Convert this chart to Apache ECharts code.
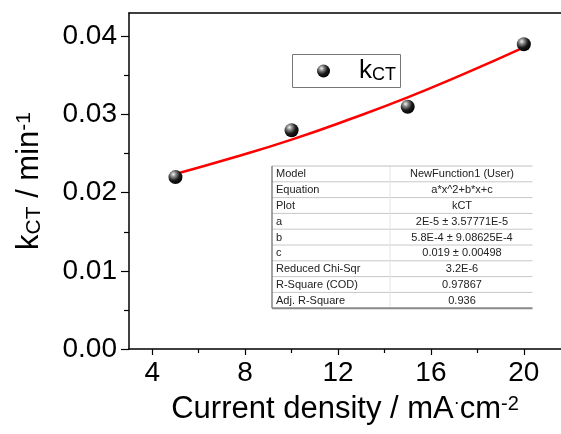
<!DOCTYPE html>
<html>
<head>
<meta charset="utf-8">
<script src="https://cdn.jsdelivr.net/npm/echarts@6/dist/echarts.min.js"></script>
<style>
html,body{margin:0;padding:0;background:#fff;}
#c{width:561px;height:434px;}
</style>
</head>
<body>
<div id="c"></div>
<script>
// ---- data ----
var currentDensity = [5, 10, 15, 20];
var kCT = [0.022, 0.028, 0.031, 0.039];
var fitX = [5, 7.5, 10, 12.5, 15, 17.5, 20];
var fitY = [0.0224, 0.0245, 0.0268, 0.0294, 0.0322, 0.0353, 0.0386];
var xTicks = [4, 8, 12, 16, 20];
var xMinorTicks = [6, 10, 14, 18];
var yTicks = [0, 0.01, 0.02, 0.03, 0.04];
var yMinorTicks = [0.005, 0.015, 0.025, 0.035];
var tableLabels = ['Model', 'Equation', 'Plot', 'a', 'b', 'c', 'Reduced Chi-Sqr', 'R-Square (COD)', 'Adj. R-Square'];
var tableValues = ['NewFunction1 (User)', 'a*x^2+b*x+c', 'kCT', '2E-5 \u00b1 3.57771E-5', '5.8E-4 \u00b1 9.08625E-4', '0.019 \u00b1 0.00498', '3.2E-6', '0.97867', '0.936'];
var legendName = 'kCT';

var FONT = 'Arial, "Liberation Sans", sans-serif';
var chart = echarts.init(document.getElementById('c'), null, {renderer: 'canvas'});

var sphere = {
  type: 'radial', x: 0.35, y: 0.3, r: 0.75,
  colorStops: [
    {offset: 0, color: '#f4f4f4'},
    {offset: 0.25, color: '#8a8a8a'},
    {offset: 0.6, color: '#1a1a1a'},
    {offset: 1, color: '#000000'}
  ]
};

// table graphic
var tL = 272, tT = 166, tR = 532.5, tDiv = 390, rowH = 15.8;
var tableEls = [];
tableEls.push({type: 'rect', shape: {x: tL, y: tT, width: tR - tL, height: rowH * tableLabels.length}, style: {fill: '#ffffff'}});
for (var i = 0; i < tableLabels.length; i++) {
  var y0 = tT + i * rowH;
  tableEls.push({type: 'text', style: {x: tL + 4, y: y0 + rowH / 2 + 0.5, text: tableLabels[i], fill: '#222', font: '11px ' + FONT, verticalAlign: 'middle', align: 'left'}});
  tableEls.push({type: 'text', style: {x: 462, y: y0 + rowH / 2 + 0.5, text: tableValues[i], fill: '#222', font: '11px ' + FONT, verticalAlign: 'middle', align: 'center'}});
  if (i > 0) {
    tableEls.push({type: 'line', shape: {x1: tL, y1: y0, x2: tR, y2: y0}, style: {stroke: '#c8c8c8', lineWidth: 1}});
  }
}
tableEls.push({type: 'line', shape: {x1: tDiv, y1: tT, x2: tDiv, y2: tT + rowH * tableLabels.length}, style: {stroke: '#e4e4e4', lineWidth: 1}});
tableEls.push({type: 'line', shape: {x1: tL, y1: tT, x2: tR, y2: tT}, style: {stroke: '#c0c0c0', lineWidth: 1}});
tableEls.push({type: 'line', shape: {x1: tL, y1: tT, x2: tL, y2: tT + rowH * tableLabels.length}, style: {stroke: '#666', lineWidth: 1.2}});
tableEls.push({type: 'line', shape: {x1: tL, y1: tT + rowH * tableLabels.length, x2: tR, y2: tT + rowH * tableLabels.length}, style: {stroke: '#888', lineWidth: 2}});

var legendEls = [
  {type: 'rect', shape: {x: 292.5, y: 54.5, width: 108, height: 33}, style: {fill: '#fff', stroke: '#777', lineWidth: 1}},
  {type: 'circle', shape: {cx: 323.5, cy: 71, r: 6.5}, style: {fill: sphere}},
  {type: 'text', style: {x: 359, y: 84, text: '{k|k}{s|CT}', verticalAlign: 'bottom', align: 'left',
    rich: {k: {fontSize: 26, fontFamily: FONT, fill: '#000', color: '#000'}, s: {fontSize: 18, fontFamily: FONT, color: '#000', verticalAlign: 'bottom'}}}}
];

var option = {
  animation: false,
  backgroundColor: '#fff',
  textStyle: {fontFamily: FONT},
  grid: {left: 129, top: 13, right: 0, bottom: 85, show: false, containLabel: false},
  xAxis: [{
    type: 'value', min: 3, max: 21.6,
    name: '{t|Current density / mA}{d|\u00b7}{t|cm}{p|-2}',
    nameLocation: 'middle', nameGap: 45,
    nameTextStyle: {rich: {
      t: {fontSize: 31, fontFamily: FONT, color: '#000'},
      d: {fontSize: 18, fontFamily: FONT, color: '#000', verticalAlign: 'top'},
      p: {fontSize: 20, fontFamily: FONT, color: '#000', verticalAlign: 'top'}
    }},
    axisLine: {show: true, lineStyle: {color: '#000', width: 1.5}},
    axisTick: {show: true, inside: false, length: 6, customValues: xTicks, lineStyle: {color: '#000', width: 1.2}},
    axisLabel: {show: true, customValues: xTicks, fontSize: 28, color: '#000', fontFamily: FONT, margin: 10},
    splitLine: {show: false}
  }, {
    type: 'value', min: 3, max: 21.6, position: 'bottom', gridIndex: 0,
    axisLine: {show: false},
    axisTick: {show: true, inside: false, length: 4, customValues: xMinorTicks, lineStyle: {color: '#000', width: 1.2}},
    axisLabel: {show: false},
    splitLine: {show: false}
  }, {
    type: 'value', min: 3, max: 21.6, position: 'top', gridIndex: 0,
    axisLine: {show: true, lineStyle: {color: '#000', width: 1.5}},
    axisTick: {show: false},
    axisLabel: {show: false},
    splitLine: {show: false}
  }],
  yAxis: [{
    type: 'value', min: 0, max: 0.043,
    name: '{k|k}{s|CT}{t| / min}{p|-1}',
    nameLocation: 'middle', nameGap: 84,
    nameTextStyle: {rich: {
      k: {fontSize: 31, fontFamily: FONT, color: '#000'},
      t: {fontSize: 31, fontFamily: FONT, color: '#000'},
      s: {fontSize: 21, fontFamily: FONT, color: '#000', verticalAlign: 'bottom'},
      p: {fontSize: 21, fontFamily: FONT, color: '#000', verticalAlign: 'top'}
    }},
    axisLine: {show: true, lineStyle: {color: '#000', width: 1.5}},
    axisTick: {show: true, inside: false, length: 8, customValues: yTicks, lineStyle: {color: '#000', width: 1.2}},
    axisLabel: {show: true, customValues: yTicks, fontSize: 28, color: '#000', fontFamily: FONT, margin: 12,
      formatter: function (v) { return v.toFixed(2); }},
    splitLine: {show: false}
  }, {
    type: 'value', min: 0, max: 0.043, position: 'left', gridIndex: 0,
    axisLine: {show: false},
    axisTick: {show: true, inside: false, length: 5, customValues: yMinorTicks, lineStyle: {color: '#000', width: 1.2}},
    axisLabel: {show: false},
    splitLine: {show: false}
  }],
  series: [{
    name: 'fit', type: 'line', smooth: true, showSymbol: false, symbol: 'none',
    xAxisIndex: 0, yAxisIndex: 0,
    data: fitX.map(function (x, i) { return [x, fitY[i]]; }),
    lineStyle: {color: '#ff0000', width: 2.5}, z: 2
  }, {
    name: legendName, type: 'scatter', symbol: 'circle', symbolSize: 14,
    xAxisIndex: 0, yAxisIndex: 0,
    data: currentDensity.map(function (x, i) { return [x, kCT[i]]; }),
    itemStyle: {color: sphere, opacity: 1}, z: 3
  }],
  graphic: [
    {type: 'group', children: legendEls, z: 10},
    {type: 'group', children: tableEls, z: 1}
  ]
};
chart.setOption(option);
</script>
</body>
</html>
